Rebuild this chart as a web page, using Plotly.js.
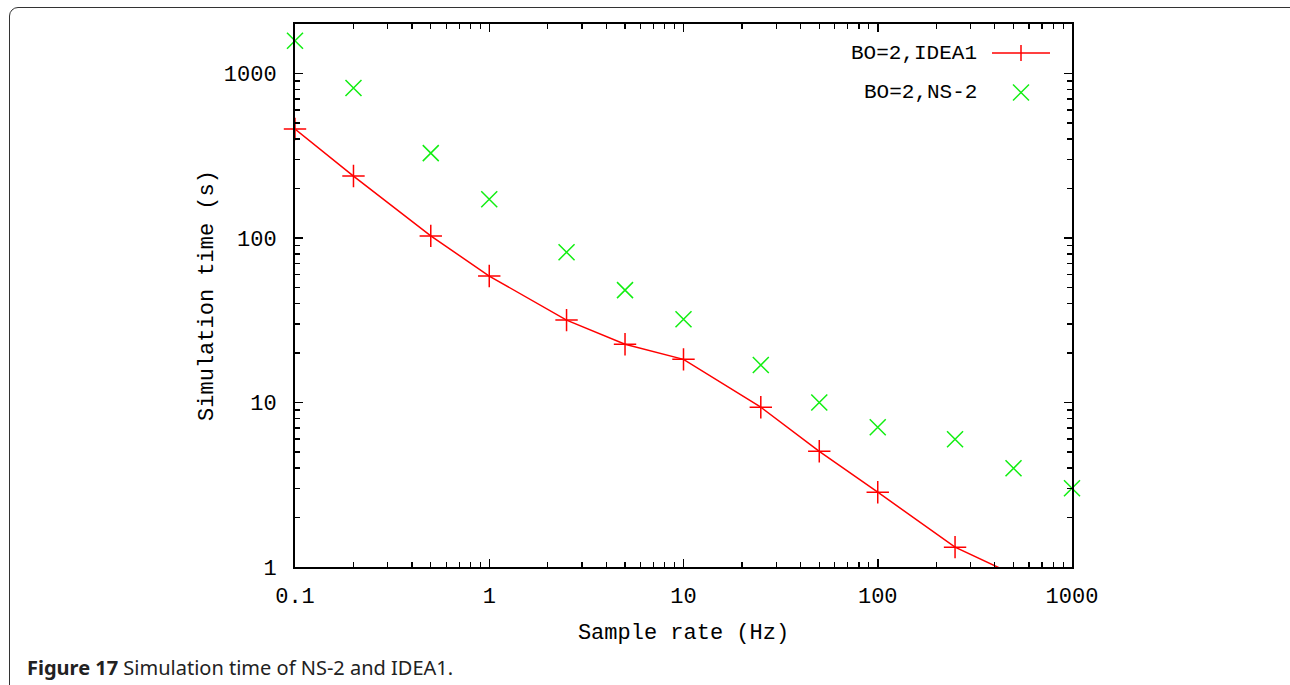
<!DOCTYPE html>
<html>
<head>
<meta charset="utf-8">
<script src="https://cdn.plot.ly/plotly-3.0.1.min.js"></script>
<style>
  html, body { margin: 0; padding: 0; background: #fff; }
  #wrap { position: relative; width: 1290px; height: 685px; overflow: hidden; }
  #frame { position: absolute; left: 9px; top: 7px; width: 1290px; height: 690px;
           border: 1.5px solid #333; border-radius: 9px; box-sizing: border-box; }
  #chart { position: absolute; left: 0; top: 0; width: 1290px; height: 685px; }
</style>
</head>
<body>
<div id="wrap">
  <div id="frame"></div>
  <div id="chart"></div>
</div>
<script>
// Data
const sampleRates = [0.1, 0.2, 0.5, 1, 2.5, 5, 10, 25, 50, 100, 250, 500, 1000];
const idea1Rates  = [0.1, 0.2, 0.5, 1, 2.5, 5, 10, 25, 50, 100, 250, 500];
const idea1Times  = [460, 238, 103, 58.7, 31.7, 22.6, 18.3, 9.36, 5.05, 2.85, 1.32, 0.9];
const ns2Times    = [1580, 816, 328, 172, 82, 48.2, 32.1, 16.9, 10, 7.07, 5.98, 3.98, 3.01];
const seriesNames = ['BO=2,IDEA1', 'BO=2,NS-2'];
const xTickVals = [0.1, 1, 10, 100, 1000];
const xTickText = ['0.1', '1', '10', '100', '1000'];
const yTickVals = [1, 10, 100, 1000];
const yTickText = ['1', '10', '100', '1000'];

const RED = '#ff0000';
const GREEN = '#11ee11';
const MONO = '"Liberation Mono", "DejaVu Sans Mono", monospace';

const traces = [
  {
    x: idea1Rates, y: idea1Times, name: seriesNames[0], type: 'scatter', mode: 'lines+markers',
    line: { color: RED, width: 1.5 },
    marker: { symbol: 'cross-thin', size: 16, color: RED, line: { color: RED, width: 1.5 } },
    cliponaxis: false
  },
  {
    x: sampleRates, y: ns2Times, name: seriesNames[1], type: 'scatter', mode: 'markers',
    marker: { symbol: 'x-thin', size: 16, color: GREEN, line: { color: GREEN, width: 1.5 } },
    cliponaxis: false
  }
];

// plot area in pixels: left 295, right 1072, top 24, bottom 566.7
const L = 295, R = 1072, T = 24, B = 566.7;
const px = p => (p - L) / (R - L);
const py = p => (B - p) / (B - T);

const legY = [53, 92.5];
const legTextRight = 979;
const legLine = [992, 1050];
const legMark = 1021;
const h = 8;

const shapes = [
  { type: 'line', xref: 'paper', yref: 'paper', x0: px(legLine[0]), x1: px(legLine[1]), y0: py(legY[0]), y1: py(legY[0]),
    line: { color: RED, width: 1.5 } },
  { type: 'line', xref: 'paper', yref: 'paper', x0: px(legMark), x1: px(legMark), y0: py(legY[0] - h), y1: py(legY[0] + h),
    line: { color: RED, width: 1.5 } },
  { type: 'line', xref: 'paper', yref: 'paper', x0: px(legMark - 8), x1: px(legMark + 8), y0: py(legY[1] - 8), y1: py(legY[1] + 8),
    line: { color: GREEN, width: 1.5 } },
  { type: 'line', xref: 'paper', yref: 'paper', x0: px(legMark - 8), x1: px(legMark + 8), y0: py(legY[1] + 8), y1: py(legY[1] - 8),
    line: { color: GREEN, width: 1.5 } }
];

const annotations = [
  { xref: 'paper', yref: 'paper', x: px(legTextRight), y: py(legY[0]), xanchor: 'right', yanchor: 'middle',
    text: seriesNames[0], showarrow: false, font: { family: MONO, size: 21, color: '#000' } },
  { xref: 'paper', yref: 'paper', x: px(legTextRight), y: py(legY[1]), xanchor: 'right', yanchor: 'middle',
    text: seriesNames[1], showarrow: false, font: { family: MONO, size: 21, color: '#000' } },
  { xref: 'paper', yref: 'paper', x: px(25), y: py(667), xanchor: 'left', yanchor: 'middle',
    text: '<b>Figure 17</b> Simulation time of NS-2 and IDEA1.', showarrow: false,
    font: { family: '"Noto Sans", "Open Sans", sans-serif', size: 20, color: '#222' } }
];

const axisCommon = {
  type: 'log',
  showline: true, linecolor: '#000', linewidth: 2,
  mirror: 'allticks',
  ticks: 'inside', ticklen: 8, tickwidth: 1.5, tickcolor: '#000',
  showgrid: false, zeroline: false,
  tickfont: { family: MONO, size: 22, color: '#000' },
  minor: { ticks: 'inside', ticklen: 5, tickwidth: 1.2, tickcolor: '#000', showgrid: false }
};

const layout = {
  width: 1290, height: 685,
  margin: { l: L, r: 1290 - R, t: T, b: 685 - B },
  paper_bgcolor: 'rgba(0,0,0,0)',
  plot_bgcolor: '#fff',
  showlegend: false,
  xaxis: Object.assign({}, axisCommon, {
    range: [-1, 3], tickmode: 'array', tickvals: xTickVals, ticktext: xTickText,
    minor: Object.assign({}, axisCommon.minor, { dtick: 'D1' }),
    ticklabelstandoff: 8,
    title: { text: 'Sample rate (Hz)', font: { family: MONO, size: 22, color: '#000' }, standoff: 14 }
  }),
  yaxis: Object.assign({}, axisCommon, {
    range: [0, Math.log10(2000)], tickmode: 'array', tickvals: yTickVals, ticktext: yTickText,
    minor: Object.assign({}, axisCommon.minor, { dtick: 'D1' }),
    ticklabelstandoff: 12,
    title: { text: 'Simulation time (s)', font: { family: MONO, size: 22, color: '#000' }, standoff: 4 }
  }),
  shapes: shapes,
  annotations: annotations
};

Plotly.newPlot('chart', traces, layout, { displayModeBar: false, staticPlot: true });
</script>
</body>
</html>
